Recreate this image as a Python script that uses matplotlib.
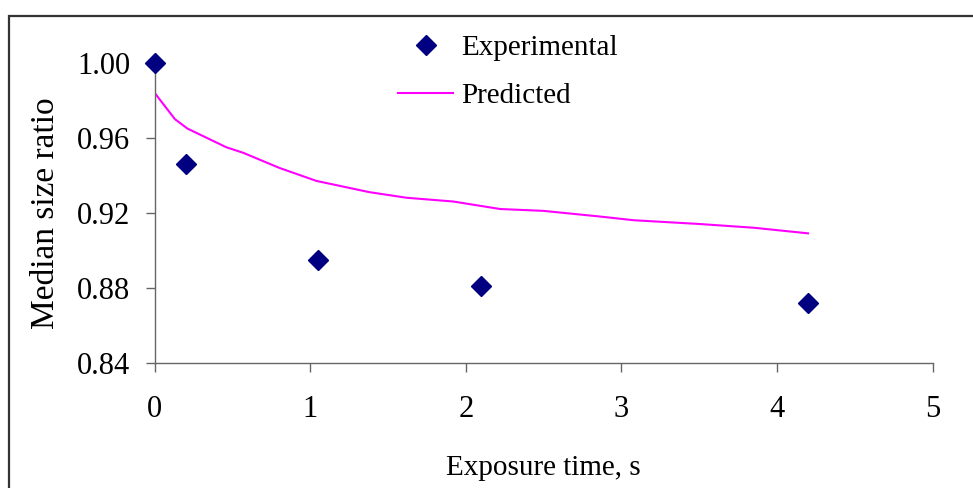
import matplotlib.pyplot as plt
from matplotlib.patches import Rectangle

plt.rcParams['font.family'] = ['Liberation Serif', 'DejaVu Serif']

# experimental points
exp_time = [0.0, 0.2, 1.05, 2.1, 4.2]
exp_ratio = [1.000, 0.946, 0.895, 0.881, 0.872]

# predicted curve
pred_time = [0.0, 0.13, 0.21, 0.36, 0.46, 0.57, 0.80, 1.04, 1.38, 1.62, 1.92,
             2.22, 2.50, 2.86, 3.08, 3.50, 3.85, 4.20]
pred_ratio = [0.984, 0.970, 0.965, 0.959, 0.955, 0.952, 0.944, 0.937, 0.931, 0.928,
              0.926, 0.922, 0.921, 0.918, 0.916, 0.914, 0.912, 0.909]

x_ticks = [0, 1, 2, 3, 4, 5]
y_ticks = [0.84, 0.88, 0.92, 0.96, 1.00]

W, H = 973, 488
fig = plt.figure(figsize=(W / 100, H / 100), dpi=100)

# outer chart frame (runs past the right and bottom edges)
fig.patches.append(Rectangle((8.5 / W, -0.2), 1.2, 1.2 - 15.5 / H, transform=fig.transFigure,
                             fill=False, edgecolor='#333333', linewidth=1.6))

ax = fig.add_axes([154.7 / W, 1 - 362.5 / H, 777.8 / W, 299.5 / H])

ax.plot(pred_time, pred_ratio, color='#FF00FF', linewidth=1.5, label='Predicted', zorder=2)
ax.plot(exp_time, exp_ratio, linestyle='none', marker='D', markersize=10.5,
        color='#000080', label='Experimental', zorder=3, clip_on=False)

ax.set_xlim(0, 5)
ax.set_ylim(0.84, 1.00)
ax.set_xticks(x_ticks)
ax.set_yticks(y_ticks)
ax.set_yticklabels([f'{v:.2f}' for v in y_ticks])

for side in ['top', 'right']:
    ax.spines[side].set_visible(False)
for side in ['left', 'bottom']:
    ax.spines[side].set_color('#666666')
    ax.spines[side].set_linewidth(1.0)

ax.tick_params(axis='both', direction='out', length=6.5, width=1.0, color='#666666',
               labelsize=22, labelcolor='black')
ax.tick_params(axis='x', pad=17)
ax.tick_params(axis='y', pad=11)

ax.set_xlabel('Exposure time, s', fontsize=21)
ax.set_ylabel('Median size ratio', fontsize=24)
ax.xaxis.set_label_coords(0.5, -0.31)
ax.yaxis.set_label_coords(-0.121, 0.5)

handles, labels = ax.get_legend_handles_labels()
leg = fig.legend(handles[::-1], labels[::-1], loc='upper left',
                 bbox_to_anchor=(398 / W, 1 - 35 / H), frameon=False,
                 fontsize=21, handlelength=1.9, handletextpad=0.28,
                 labelspacing=0.72, borderpad=0, borderaxespad=0)

fig.savefig('out.png', dpi=100)
